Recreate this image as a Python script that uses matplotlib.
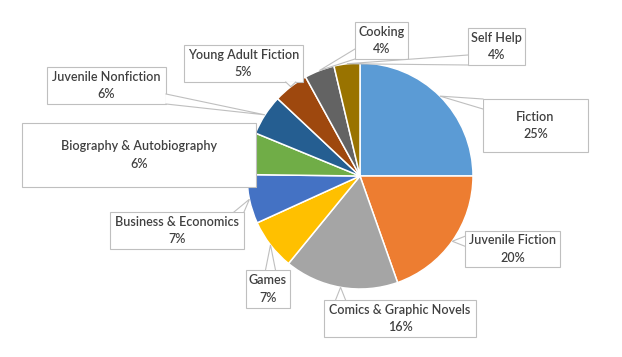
import numpy as np
import matplotlib.pyplot as plt
from matplotlib.patches import Rectangle, Polygon

# Data, clockwise from 12 o'clock
categories = ["Fiction", "Juvenile Fiction", "Comics & Graphic Novels", "Games",
              "Business & Economics", "Biography & Autobiography",
              "Juvenile Nonfiction", "Young Adult Fiction", "Cooking", "Self Help"]
shares = [25.0, 19.6, 16.3, 7.3, 7.0, 6.0, 5.8, 5.0, 4.3, 3.7]
colors = ["#5B9BD5", "#ED7D31", "#A5A5A5", "#FFC000", "#4472C4",
          "#70AD47", "#255E91", "#9E480E", "#636363", "#997300"]

# callout boxes in pixels (left, top, right, bottom), y measured from the top
label_boxes = [(483, 99, 588, 152), (465, 231, 560, 267), (324, 300, 476, 337),
               (246, 270, 290, 308), (110, 212, 244, 249), (22, 123, 256, 187),
               (47, 67, 166, 104), (184, 45, 303, 82), (355, 22, 408, 59),
               (468, 28, 525, 65)]

W, H = 622, 357
fig = plt.figure(figsize=(W / 100, H / 100), dpi=100)
ax = fig.add_axes([0, 0, 1, 1])

cx, cy, r = 360, H - 176, 113
wedges, _ = ax.pie(shares, colors=colors, startangle=90, counterclock=False,
                   center=(cx, cy), radius=r,
                   wedgeprops=dict(edgecolor="white", linewidth=1.1))
ax.set_xlim(0, W)
ax.set_ylim(0, H)
ax.set_aspect("equal")
ax.axis("off")

edge = "#BFBFBF"
hw = 5  # half width of the callout pointer base
total = sum(shares)

for w, name, val, (l, t, rr, b) in zip(wedges, categories, shares, label_boxes):
    x0, x1 = l, rr
    y0, y1 = H - b, H - t
    mid = np.deg2rad((w.theta1 + w.theta2) / 2)
    tx, ty = cx + r * np.cos(mid), cy + r * np.sin(mid)

    ax.add_patch(Rectangle((x0, y0), x1 - x0, y1 - y0, facecolor="white",
                           edgecolor=edge, linewidth=0.8, zorder=3))

    # pointer on the side facing the slice
    d = {"left": x0 - tx, "right": tx - x1, "bottom": y0 - ty, "top": ty - y1}
    side = max(d, key=d.get)
    if d[side] > 0:
        if side in ("left", "right"):
            sx = x0 if side == "left" else x1
            c = min(max(ty, y0 + hw), y1 - hw)
            p1, p2 = (sx, c - hw), (sx, c + hw)
        else:
            sy = y0 if side == "bottom" else y1
            c = min(max(tx, x0 + hw), x1 - hw)
            p1, p2 = (c - hw, sy), (c + hw, sy)
        ax.add_patch(Polygon([p1, (tx, ty), p2], closed=True, facecolor="white",
                             edgecolor="none", zorder=4))
        ax.plot([p1[0], tx, p2[0]], [p1[1], ty, p2[1]], color=edge,
                linewidth=0.8, zorder=4, solid_joinstyle="miter")

    ax.text((x0 + x1) / 2, (y0 + y1) / 2, f"{name}\n{val / total * 100:.0f}%",
            ha="center", va="center", fontsize=9, family="Lato",
            fontweight="semibold", color="#404040", linespacing=1.5, zorder=5)

fig.savefig("out.png", dpi=100)
